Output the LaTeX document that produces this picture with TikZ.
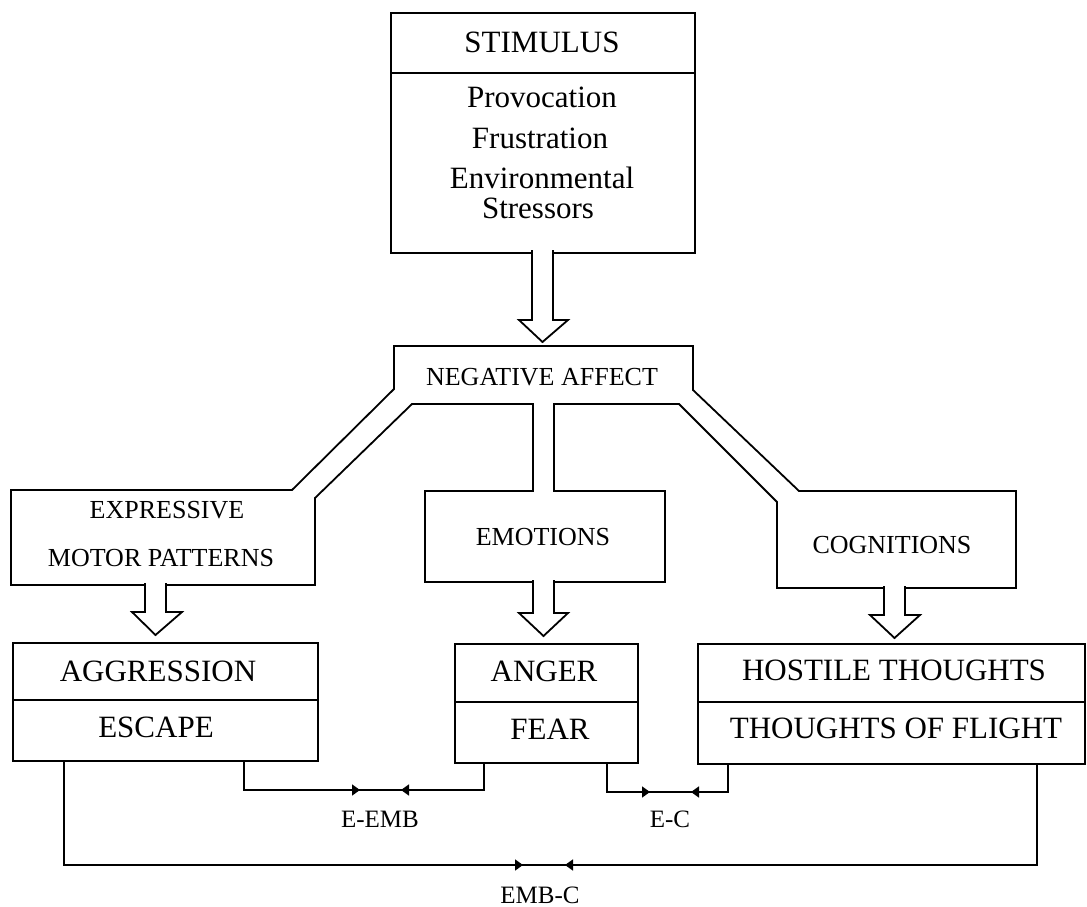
\documentclass[tikz,border=0pt]{standalone}
\usepackage{fontspec}
\setmainfont{Liberation Serif}
\usetikzlibrary{arrows.meta}
\begin{document}
\begin{tikzpicture}[x=1pt,y=-1pt,
  outline/.style={line width=1.8pt, line join=miter},
  boxnode/.style={draw, line width=1.8pt, inner sep=0pt, anchor=north west},
  big/.style={font=\fontsize{31}{34}\selectfont, anchor=base, inner sep=0pt},
  midtxt/.style={font=\fontsize{26}{29}\selectfont, anchor=base, inner sep=0pt},
  smalltxt/.style={font=\fontsize{25}{28}\selectfont, anchor=base, inner sep=0pt},
  conn/.style={line width=1.6pt},
  tiparrow/.style={line width=1.6pt, -{Triangle[length=8pt,width=11pt]}},
  midseg/.style={line width=2.6pt}]

\useasboundingbox (0,0) rectangle (1087,907);

% boxes
\node[boxnode, minimum width=304pt, minimum height=240pt] (stim) at (390,12) {};
\draw[outline] ([yshift=-61pt]stim.north west) -- ([yshift=-61pt]stim.north east);
\node[boxnode, minimum width=305pt, minimum height=118pt] (aggr) at (12,642) {};
\draw[outline] ([yshift=-58pt]aggr.north west) -- ([yshift=-58pt]aggr.north east);
\node[boxnode, minimum width=183pt, minimum height=119pt] (anger) at (454,643) {};
\draw[outline] ([yshift=-59pt]anger.north west) -- ([yshift=-59pt]anger.north east);
\node[boxnode, minimum width=387pt, minimum height=120pt] (host) at (697,643) {};
\draw[outline] ([yshift=-59pt]host.north west) -- ([yshift=-59pt]host.north east);

% negative affect with its three channels and boxes
\draw[outline] (394,346) -- (693,346) -- (693,390) -- (799,491) -- (1016,491)
  -- (1016,588) -- (777,588) -- (777,502) -- (679,404) -- (554,404) -- (554,491)
  -- (665,491) -- (665,582) -- (425,582) -- (425,491) -- (533,491) -- (533,404)
  -- (412,404) -- (315,498) -- (315,585) -- (11,585) -- (11,490) -- (292,490)
  -- (394,389) -- cycle;

% block arrows
\fill[white] (533.2,249) rectangle (551.8,320);
\draw[outline] (532,250) -- (532,320) -- (519,320) -- (542.5,342) -- (568,320) -- (553,320) -- (553,250);
\fill[white] (146.2,582) rectangle (164.8,612);
\draw[outline] (145,583) -- (145,612) -- (132,612) -- (155.5,635) -- (182,612) -- (166,612) -- (166,583);
\fill[white] (534.2,579) rectangle (552.8,613);
\draw[outline] (533,580) -- (533,613) -- (519,613) -- (543.5,636) -- (568,613) -- (554,613) -- (554,580);
\fill[white] (885.2,585) rectangle (903.8,615);
\draw[outline] (884,586) -- (884,615) -- (870,615) -- (894.5,638) -- (920,615) -- (905,615) -- (905,586);

% texts
\node[big] (tstim) at (542,53) {STIMULUS};
\node[big] (tprov) at (542,107) {Provocation};
\node[big] (tfrus) at (540,148) {Frustration};
\node[big] (tenv) at (542,188) {Environmental};
\node[big] (tstr) at (538,218) {Stressors};
\node[midtxt] (tneg) at (542,385) {NEGATIVE AFFECT};
\node[midtxt] (texp) at (167,518) {EXPRESSIVE};
\node[midtxt] (tmot) at (161,566) {MOTOR PATTERNS};
\node[midtxt] (temo) at (543,545) {EMOTIONS};
\node[midtxt] (tcog) at (892,553) {COGNITIONS};
\node[big] (tagg) at (158,681) {AGGRESSION};
\node[big] (tesc) at (156,737) {ESCAPE};
\node[big] (tang) at (544,681) {ANGER};
\node[big] (tfear) at (550,739) {FEAR};
\node[big] (thos) at (894,680) {HOSTILE THOUGHTS};
\node[big] (tflt) at (896,738) {THOUGHTS OF FLIGHT};
\node[smalltxt] (lee) at (380,827) {E-EMB};
\node[smalltxt] (lec) at (670,827) {E-C};
\node[smalltxt] (lemc) at (540,903) {EMB-C};

% connectors
\coordinate (a1) at (244,790); \coordinate (a2) at (484,790);
\coordinate (am1) at (360,790); \coordinate (am2) at (401,790);
\draw[conn] (aggr.south -| a1) -- (a1) -- (a2) -- (anger.south -| a2);
\draw[midseg] (am1) -- (am2);
\draw[tiparrow] (a1) -- (am1);
\draw[tiparrow] (a2) -- (am2);

\coordinate (b1) at (607,792); \coordinate (b2) at (728,792);
\coordinate (bm1) at (650,792); \coordinate (bm2) at (691,792);
\draw[conn] (anger.south -| b1) -- (b1) -- (b2) -- (host.south -| b2);
\draw[midseg] (bm1) -- (bm2);
\draw[tiparrow] (b1) -- (bm1);
\draw[tiparrow] (b2) -- (bm2);

\coordinate (c1) at (64,865); \coordinate (c2) at (1037,865);
\coordinate (cm1) at (523,865); \coordinate (cm2) at (565,865);
\draw[conn] (aggr.south -| c1) -- (c1) -- (c2) -- (host.south -| c2);
\draw[midseg] (cm1) -- (cm2);
\draw[tiparrow] (c1) -- (cm1);
\draw[tiparrow] (c2) -- (cm2);
\end{tikzpicture}
\end{document}
